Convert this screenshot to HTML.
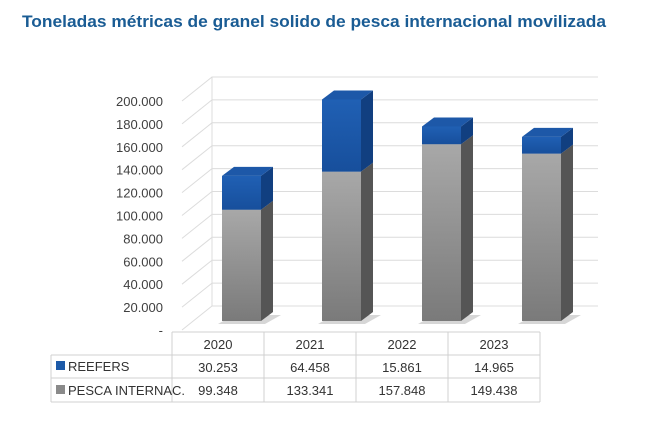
<!DOCTYPE html>
<html><head><meta charset="utf-8"><style>
body{margin:0;background:#fff;width:665px;height:423px;overflow:hidden;font-family:"Liberation Sans",sans-serif}
</style></head><body>
<svg width="665" height="423" id="c">
<defs>
<linearGradient id="gf" x1="0" x2="0" y1="0" y2="1"><stop offset="0" stop-color="#a8a8a8"/><stop offset="1" stop-color="#7a7a7a"/></linearGradient>
<linearGradient id="bf" x1="0" x2="0" y1="0" y2="1"><stop offset="0" stop-color="#2060b4"/><stop offset="1" stop-color="#174f9c"/></linearGradient>
</defs>
<text x="314" y="27" text-anchor="middle" font-size="17" font-weight="bold" fill="#1a5c94" textLength="584" lengthAdjust="spacingAndGlyphs">Toneladas métricas de granel solido de pesca internacional movilizada</text>
<g id="grid"></g><g id="bars"></g><g id="table"></g>
</svg>
<script>
const categories=["2020","2021","2022","2023"];
const reefers=[30253,64458,15861,14965];
const pesca=[99348,133341,157848,149438];
const ticks=[0,20000,40000,60000,80000,100000,120000,140000,160000,180000,200000];
const tickLabels=["-","20.000","40.000","60.000","80.000","100.000","120.000","140.000","160.000","180.000","200.000"];
const NS="http://www.w3.org/2000/svg";
function mk(t,a,p){const e=document.createElementNS(NS,t);for(const k in a)e.setAttribute(k,a[k]);p.appendChild(e);return e;}
const labelY=v=>330-v/20000*22.9;
const barY=v=>321-v/1000*1.12;
const grid=document.getElementById('grid');
ticks.forEach((v,i)=>{
 const y=labelY(v);
 const t=mk('text',{x:163,y:y+5,'text-anchor':'end','font-size':13,fill:'#404040'},grid);
 t.textContent=tickLabels[i];
 
 
 const l=mk('polyline',{points:`182,${y} 212,${y-24} 598,${y-24}`,fill:'none',stroke:'#dcdcdc','stroke-width':1},grid);
 
 
});
mk('line',{x1:212,y1:labelY(200000)-24,x2:212,y2:labelY(0)-24,stroke:'#dcdcdc'},grid);
const bars=document.getElementById('bars');
const W=39,DX=12,DY=9;
function box(x,y0,y1,front,side,top,name){
 const g=mk('g',{},bars);
 
 
 mk('rect',{x:x,y:y1,width:W,height:y0-y1,fill:front},g);
 mk('polygon',{points:`${x+W},${y1} ${x+W+DX},${y1-DY} ${x+W+DX},${y0-DY} ${x+W},${y0}`,fill:side},g);
 mk('polygon',{points:`${x},${y1} ${x+DX},${y1-DY} ${x+W+DX},${y1-DY} ${x+W},${y1}`,fill:top},g);
}
categories.forEach((c,i)=>{
 const x=222+i*100;
 mk('polygon',{points:`${x-4},${barY(0)+3} ${x+W+4},${barY(0)+3} ${x+W+DX+8},${barY(0)-6} ${x+DX},${barY(0)-6}`,fill:'#bbb',opacity:0.6},bars);
 box(x,barY(0),barY(pesca[i]),'url(#gf)','#555','#9a9a9a','bar-pesca-'+c);
 box(x,barY(pesca[i]),barY(pesca[i]+reefers[i]),'url(#bf)','#113f80','#1d58a8','bar-reefers-'+c);
});
const tb=document.getElementById('table');
const cols=[172,264,356,448,540];
mk('line',{x1:172,y1:332,x2:540,y2:332,stroke:'#d0d0d0'},tb);
[355,378,402].forEach(y=>mk('line',{x1:51,y1:y,x2:540,y2:y,stroke:'#d0d0d0'},tb));
cols.forEach(x=>mk('line',{x1:x,y1:332,x2:x,y2:402,stroke:'#d0d0d0'},tb));
mk('line',{x1:51,y1:355,x2:51,y2:402,stroke:'#d0d0d0'},tb);
function txt(x,y,s,anchor,name){const t=mk('text',{x:x,y:y,'text-anchor':anchor,'font-size':13,fill:'#333'},tb);t.textContent=s;}
categories.forEach((c,i)=>{
 const cx=(cols[i]+cols[i+1])/2;
 txt(cx,349,c,'middle','x-category-label');
 txt(cx,372,reefers[i].toLocaleString('de-DE'),'middle','reefers-value');
 txt(cx,395,pesca[i].toLocaleString('de-DE'),'middle','pesca-value');
});
mk('rect',{x:56,y:361,width:9,height:9,fill:'#1d5aa8'},tb);
mk('rect',{x:56,y:385,width:9,height:9,fill:'#8a8a8a'},tb);
txt(68,371,'REEFERS','start','legend-entry-reefers');
txt(68,395,'PESCA INTERNAC.','start','legend-entry-pesca');
</script>
</body></html>
